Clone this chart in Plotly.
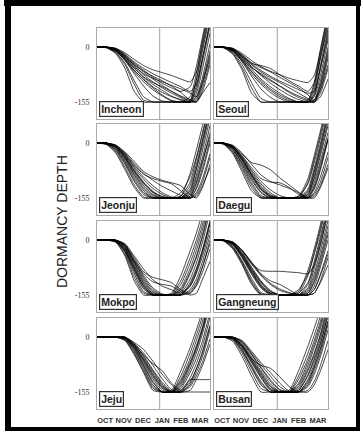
import plotly.graph_objects as go

# ---------------- data ----------------
DAYS = [0, 15, 30, 45, 60, 75, 90, 105, 120, 135, 150, 160, 170, 182]
STATIONS = ["Incheon", "Seoul", "Jeonju", "Daegu", "Mokpo", "Gangneung", "Jeju", "Busan"]
MONTHS = ["OCT", "NOV", "DEC", "JAN", "FEB", "MAR"]
MONTH_POS = [13, 43, 74, 105, 135, 166]
Y_TICKS = [0, -155]
Y_TICK_TEXT = ["0", "-155"]
JAN_LINE = 101

INCHEON = [
    [0, -2, -18, -60, -125, -155, -155, -155, -155, -155, -155, -110, -30, 70],
    [0, -1, -14, -45, -95, -140, -155, -155, -155, -155, -150, -95, -10, 90],
    [0, 0, -10, -38, -75, -110, -138, -152, -155, -155, -155, -130, -60, 40],
    [0, 0, -12, -35, -65, -92, -115, -135, -150, -155, -155, -140, -85, 10],
    [0, 0, -8, -30, -58, -85, -105, -122, -138, -150, -155, -150, -105, -20],
    [0, 0, -6, -26, -52, -78, -98, -115, -130, -143, -155, -120, -40, 60],
    [0, 0, -9, -32, -60, -84, -100, -112, -125, -140, -150, -90, 0, 100],
    [0, 0, -5, -24, -48, -70, -90, -108, -124, -138, -148, -155, -125, -50],
    [0, 0, -4, -20, -42, -60, -75, -88, -100, -112, -125, -105, -30, 70],
    [0, 0, -3, -16, -35, -52, -64, -72, -80, -90, -98, -70, 10, 110],
    [0, 0, -7, -28, -55, -75, -88, -98, -108, -118, -130, -140, -95, -10],
    [0, -1, -15, -50, -105, -150, -155, -155, -155, -155, -155, -145, -100, -30],
    [0, 0, -10, -36, -70, -98, -120, -138, -152, -155, -140, -75, 20, 120],
    [0, 0, -6, -27, -50, -68, -82, -95, -110, -128, -150, -155, -130, -100],
    [0, 0, -8, -34, -66, -90, -112, -128, -140, -148, -155, -155, -115, -40],
    [0, 0, -4, -22, -45, -65, -85, -102, -115, -125, -112, -55, 30, 130],
]
SEOUL = [
    [0, -2, -20, -65, -130, -155, -155, -155, -155, -155, -155, -120, -30, 70],
    [0, -1, -15, -50, -100, -145, -155, -155, -155, -155, -155, -135, -60, 40],
    [0, 0, -12, -42, -82, -118, -142, -155, -155, -155, -155, -140, -80, 20],
    [0, 0, -10, -38, -70, -100, -122, -140, -152, -155, -155, -150, -95, 0],
    [0, 0, -8, -32, -62, -90, -112, -130, -145, -155, -155, -130, -50, 50],
    [0, 0, -6, -28, -55, -80, -102, -120, -136, -148, -155, -155, -110, -20],
    [0, 0, -10, -35, -58, -75, -92, -110, -128, -142, -150, -110, -20, 80],
    [0, 0, -5, -24, -46, -52, -60, -78, -95, -110, -125, -100, -30, 60],
    [0, 0, -4, -22, -44, -58, -70, -85, -100, -115, -135, -150, -120, -50],
    [0, 0, -3, -18, -38, -55, -68, -78, -88, -95, -100, -80, -10, 90],
    [0, 0, -8, -30, -56, -78, -95, -110, -125, -138, -148, -155, -130, -60],
    [0, -1, -18, -58, -115, -155, -155, -155, -155, -155, -155, -150, -105, -10],
    [0, 0, -12, -40, -76, -105, -128, -145, -155, -155, -150, -100, -5, 100],
    [0, 0, -6, -26, -50, -70, -86, -100, -115, -130, -145, -155, -140, -90],
    [0, 0, -9, -36, -68, -95, -118, -135, -148, -155, -155, -155, -120, -30],
    [0, 0, -5, -25, -48, -66, -82, -96, -108, -120, -130, -125, -60, 30],
]
JEONJU = [
    [0, -4, -28, -75, -125, -155, -155, -155, -155, -150, -85, -20, 50, 140],
    [0, -2, -20, -60, -108, -145, -155, -155, -155, -155, -120, -60, 10, 100],
    [0, -1, -16, -52, -98, -135, -155, -155, -155, -155, -140, -90, -20, 70],
    [0, 0, -12, -44, -88, -125, -148, -155, -155, -155, -150, -115, -55, 30],
    [0, 0, -10, -40, -80, -115, -140, -155, -155, -155, -155, -130, -80, 0],
    [0, 0, -8, -34, -70, -102, -128, -145, -155, -155, -155, -145, -110, -40],
    [0, 0, -14, -48, -92, -130, -152, -155, -155, -140, -95, -40, 30, 120],
    [0, 0, -6, -28, -58, -85, -105, -122, -135, -148, -155, -125, -70, 10],
    [0, 0, -7, -30, -62, -88, -100, -108, -115, -135, -155, -140, -100, -30],
    [0, -1, -18, -56, -104, -140, -155, -155, -155, -150, -110, -45, 25, 110],
    [0, 0, -11, -42, -84, -120, -145, -155, -155, -155, -145, -100, -40, 50],
    [0, 0, -5, -25, -52, -80, -95, -105, -112, -120, -145, -155, -125, -60],
    [0, 0, -9, -36, -75, -110, -136, -152, -155, -155, -155, -150, -120, -70],
    [0, -3, -24, -68, -118, -152, -155, -155, -155, -155, -135, -75, -5, 85],
    [0, 0, -8, -32, -66, -96, -120, -140, -152, -155, -150, -110, -50, 20],
    [0, 0, -9, -38, -78, -112, -138, -150, -155, -155, -130, -70, 5, 95],
]
DAEGU = [
    [0, -3, -30, -82, -135, -155, -155, -155, -155, -155, -110, -45, 25, 120],
    [0, -2, -24, -68, -118, -152, -155, -155, -155, -155, -130, -70, 0, 90],
    [0, -1, -18, -58, -105, -140, -155, -155, -155, -155, -145, -100, -35, 50],
    [0, 0, -14, -50, -95, -132, -152, -155, -155, -155, -152, -125, -70, 10],
    [0, 0, -12, -45, -88, -125, -148, -155, -155, -155, -155, -140, -95, -25],
    [0, 0, -10, -40, -80, -115, -140, -155, -155, -155, -140, -85, -15, 75],
    [0, 0, -16, -55, -100, -138, -155, -155, -155, -150, -115, -55, 15, 105],
    [0, 0, -8, -32, -55, -62, -75, -98, -118, -138, -155, -130, -75, 10],
    [0, 0, -9, -36, -70, -100, -110, -112, -125, -145, -155, -145, -110, -40],
    [0, -1, -20, -62, -112, -148, -155, -155, -155, -155, -135, -80, -10, 80],
    [0, 0, -12, -46, -90, -128, -150, -155, -155, -155, -150, -110, -50, 30],
    [0, 0, -6, -28, -60, -90, -108, -118, -128, -140, -155, -155, -125, -70],
    [0, 0, -11, -43, -85, -120, -145, -155, -155, -155, -155, -150, -120, -60],
    [0, -2, -26, -74, -126, -155, -155, -155, -155, -150, -100, -35, 35, 130],
    [0, 0, -9, -38, -76, -108, -132, -148, -155, -155, -155, -120, -60, 15],
    [0, 0, -13, -48, -92, -130, -150, -155, -155, -155, -145, -95, -25, 60],
]
MOKPO = [
    [0, 0, -5, -45, -115, -155, -155, -155, -150, -100, -30, 20, 80, 160],
    [0, 0, -3, -35, -95, -145, -155, -155, -155, -125, -65, -15, 45, 130],
    [0, 0, -2, -28, -80, -130, -155, -155, -155, -145, -95, -50, 10, 95],
    [0, 0, -1, -22, -70, -120, -152, -155, -155, -155, -120, -80, -25, 55],
    [0, 0, 0, -18, -62, -110, -145, -155, -155, -155, -140, -110, -60, 15],
    [0, 0, 0, -14, -55, -100, -135, -152, -155, -155, -150, -130, -90, -25],
    [0, 0, -4, -32, -88, -138, -155, -155, -155, -135, -80, -30, 30, 115],
    [0, 0, 0, -10, -45, -82, -112, -130, -140, -150, -130, -90, -35, 45],
    [0, 0, 0, -12, -50, -90, -105, -112, -120, -140, -150, -125, -75, 0],
    [0, 0, -2, -26, -78, -128, -155, -155, -155, -150, -110, -65, -5, 80],
    [0, 0, -1, -20, -66, -115, -148, -155, -155, -155, -130, -95, -45, 30],
    [0, 0, 0, -16, -58, -95, -118, -125, -130, -145, -155, -150, -110, -60],
    [0, 0, -3, -30, -84, -134, -155, -155, -155, -155, -145, -120, -75, -10],
    [0, 0, -6, -40, -105, -150, -155, -155, -152, -115, -50, 0, 60, 145],
    [0, 0, 0, -15, -60, -105, -140, -155, -155, -155, -125, -85, -30, 50],
    [0, 0, -2, -24, -74, -124, -152, -155, -155, -140, -90, -45, 15, 100],
]
GANGNEUNG = [
    [0, -2, -25, -70, -125, -155, -155, -155, -155, -150, -100, -40, 25, 120],
    [0, -1, -18, -58, -108, -148, -155, -155, -155, -155, -125, -70, 0, 90],
    [0, 0, -14, -50, -96, -135, -155, -155, -155, -155, -140, -95, -30, 55],
    [0, 0, -10, -42, -85, -125, -150, -155, -155, -155, -150, -120, -65, 15],
    [0, 0, -8, -36, -76, -115, -142, -155, -155, -155, -155, -140, -95, -30],
    [0, 0, -12, -46, -90, -130, -152, -155, -155, -140, -95, -35, 35, 130],
    [0, 0, -6, -30, -66, -86, -88, -88, -90, -92, -95, -70, -10, 80],
    [0, 0, -7, -32, -68, -100, -125, -142, -150, -155, -155, -130, -75, 0],
    [0, 0, -5, -28, -62, -95, -115, -125, -140, -155, -155, -150, -115, -50],
    [0, -1, -20, -62, -115, -152, -155, -155, -155, -155, -135, -80, -15, 75],
    [0, 0, -11, -44, -88, -128, -150, -155, -155, -155, -145, -105, -45, 40],
    [0, 0, -9, -38, -80, -118, -145, -155, -155, -155, -155, -150, -120, -70],
    [0, -2, -22, -66, -120, -155, -155, -155, -155, -145, -85, -25, 45, 140],
    [0, 0, -10, -40, -82, -120, -146, -155, -155, -155, -150, -115, -55, 25],
    [0, 0, -6, -30, -64, -98, -122, -138, -148, -155, -155, -140, -100, -40],
    [0, 0, -13, -48, -94, -133, -153, -155, -155, -150, -120, -60, 10, 100],
]
JEJU = [
    [0, 0, 0, -10, -50, -100, -150, -155, -150, -95, -30, 20, 75, 160],
    [0, 0, 0, -5, -38, -85, -135, -155, -155, -120, -60, -10, 45, 130],
    [0, 0, 0, -3, -30, -72, -118, -150, -155, -140, -90, -45, 10, 95],
    [0, 0, 0, -2, -25, -62, -105, -140, -155, -155, -115, -75, -25, 55],
    [0, 0, 0, 0, -20, -55, -95, -132, -155, -155, -135, -100, -55, 20],
    [0, 0, 0, -6, -42, -90, -140, -155, -155, -110, -45, 5, 60, 145],
    [0, 0, 0, 0, -15, -35, -68, -105, -135, -155, -150, -120, -80, -20],
    [0, 0, 0, -2, -22, -50, -75, -95, -130, -150, -125, -90, -40, 35],
    [0, 0, 0, -4, -32, -78, -125, -155, -155, -155, -155, -155, -155, -155],
    [0, 0, 0, -3, -28, -68, -112, -145, -155, -130, -75, -30, 25, 110],
    [0, 0, 0, -1, -24, -60, -100, -136, -155, -150, -120, -120, -120, -120],
    [0, 0, 0, 0, -18, -45, -80, -118, -148, -155, -140, -110, -70, -5],
    [0, 0, 0, -8, -46, -96, -145, -155, -155, -125, -70, -25, 30, 115],
    [0, 0, 0, -2, -26, -65, -108, -142, -155, -145, -100, -60, -10, 70],
    [0, 0, 0, -4, -34, -80, -128, -155, -155, -135, -80, -35, 20, 100],
    [0, 0, 0, 0, -20, -52, -92, -128, -152, -155, -130, -90, -45, 30],
]
BUSAN = [
    [0, 0, -12, -55, -110, -155, -155, -155, -150, -95, -25, 25, 80, 160],
    [0, 0, -6, -40, -88, -135, -155, -155, -155, -120, -60, -10, 45, 130],
    [0, 0, -3, -30, -72, -115, -150, -155, -155, -140, -90, -45, 10, 95],
    [0, 0, -1, -22, -60, -100, -138, -155, -155, -155, -120, -75, -20, 60],
    [0, 0, 0, -16, -50, -88, -125, -150, -155, -155, -140, -105, -55, 20],
    [0, 0, -4, -34, -80, -125, -155, -155, -155, -130, -70, -20, 35, 120],
    [0, 0, 0, -10, -40, -72, -100, -130, -152, -155, -150, -125, -80, -10],
    [0, 0, -2, -25, -62, -80, -88, -112, -140, -155, -130, -85, -30, 45],
    [0, 0, -2, -26, -66, -108, -145, -155, -155, -150, -105, -60, -5, 75],
    [0, 0, -5, -38, -85, -130, -155, -155, -155, -135, -80, -30, 25, 110],
    [0, 0, 0, -14, -48, -85, -120, -148, -155, -155, -135, -95, -45, 35],
    [0, 0, 0, -12, -44, -78, -110, -140, -155, -155, -155, -135, -95, -35],
    [0, 0, -8, -46, -98, -145, -155, -155, -155, -110, -45, 5, 60, 145],
    [0, 0, -3, -28, -70, -112, -148, -155, -155, -145, -95, -50, 5, 85],
    [0, 0, -1, -20, -56, -95, -132, -155, -155, -155, -125, -85, -35, 45],
    [0, 0, -2, -24, -64, -104, -140, -155, -155, -150, -110, -65, -15, 65],
]
SERIES = [INCHEON, SEOUL, JEONJU, DAEGU, MOKPO, GANGNEUNG, JEJU, BUSAN]

# ---------------- layout geometry (pixels) ----------------
W, H = 362, 432
COL_X = [(97, 210), (214, 328)]
ROW_Y = [(28, 119), (124, 215), (221, 312), (318, 409)]

fig = go.Figure()
layout = dict(
    width=W, height=H, margin=dict(l=0, r=0, t=0, b=0),
    paper_bgcolor="white", plot_bgcolor="white", showlegend=False,
    shapes=[], annotations=[],
)

for k, (name, curves) in enumerate(zip(STATIONS, SERIES)):
    row, col = divmod(k, 2)
    sfx = "" if k == 0 else str(k + 1)
    xa, ya = "x" + sfx, "y" + sfx
    for c in curves:
        fig.add_trace(go.Scatter(
            x=DAYS, y=c, xaxis=xa, yaxis=ya, mode="lines",
            line=dict(color="rgba(0,0,0,0.72)", width=1, shape="spline", smoothing=0.6),
            hoverinfo="skip",
        ))
    x0, x1 = COL_X[col]
    yt, yb = ROW_Y[row]
    layout["xaxis" + sfx] = dict(
        domain=[x0 / W, x1 / W], anchor=ya, range=[0, 182],
        showgrid=False, zeroline=False, showline=True, mirror=True,
        linecolor="#aaaaaa", linewidth=1, ticks="",
        tickvals=MONTH_POS, ticktext=["<b>%s</b>" % m for m in MONTHS],
        showticklabels=(row == 3), ticklabelstandoff=4,
        tickfont=dict(family="Liberation Sans, Arial", size=7.5, color="#333333"),
    )
    layout["yaxis" + sfx] = dict(
        domain=[1 - yb / H, 1 - yt / H], anchor=xa, range=[-203, 54],
        showgrid=False, zeroline=False, showline=True, mirror=True,
        linecolor="#aaaaaa", linewidth=1, ticks="",
        tickvals=Y_TICKS, ticktext=Y_TICK_TEXT,
        showticklabels=(col == 0), ticklabelstandoff=5,
        tickfont=dict(family="Liberation Serif, Times New Roman", size=8, color="#333333"),
    )
    layout["shapes"].append(dict(
        type="line", xref=xa, yref=ya + " domain", x0=JAN_LINE, x1=JAN_LINE, y0=0, y1=1,
        line=dict(color="#a0a0a0", width=1), layer="below",
    ))
    layout["annotations"].append(dict(
        xref=xa + " domain", yref=ya + " domain", x=0.018, y=0.022,
        xanchor="left", yanchor="bottom", showarrow=False,
        text="<b>%s</b>" % name,
        font=dict(family="Liberation Sans, Arial", size=10.5, color="#222222"),
        bgcolor="white", bordercolor="#333333", borderwidth=1.2, borderpad=1,
    ))

layout["annotations"].append(dict(
    xref="paper", yref="paper", x=62 / W, y=1 - 222 / H, textangle=-90,
    xanchor="center", yanchor="middle",
    showarrow=False, text="DORMANCY DEPTH",
    font=dict(family="Liberation Sans, Arial", size=14, color="#222222"),
))

# outer black frame
for (px0, py0, px1, py1) in [(4, 0, 361, 6), (5, 0, 11, 431), (356, 0, 360, 431), (5, 427, 360, 431)]:
    layout["shapes"].append(dict(
        type="rect", xref="paper", yref="paper",
        x0=px0 / W, x1=px1 / W, y0=1 - py1 / H, y1=1 - py0 / H,
        fillcolor="black", line=dict(width=0), layer="above",
    ))

fig.update_layout(**layout)
fig.write_html(
    "out.html",
    config={"displayModeBar": False, "staticPlot": True},
    post_script="document.body.style.margin='0';document.body.style.overflow='hidden';",
)
